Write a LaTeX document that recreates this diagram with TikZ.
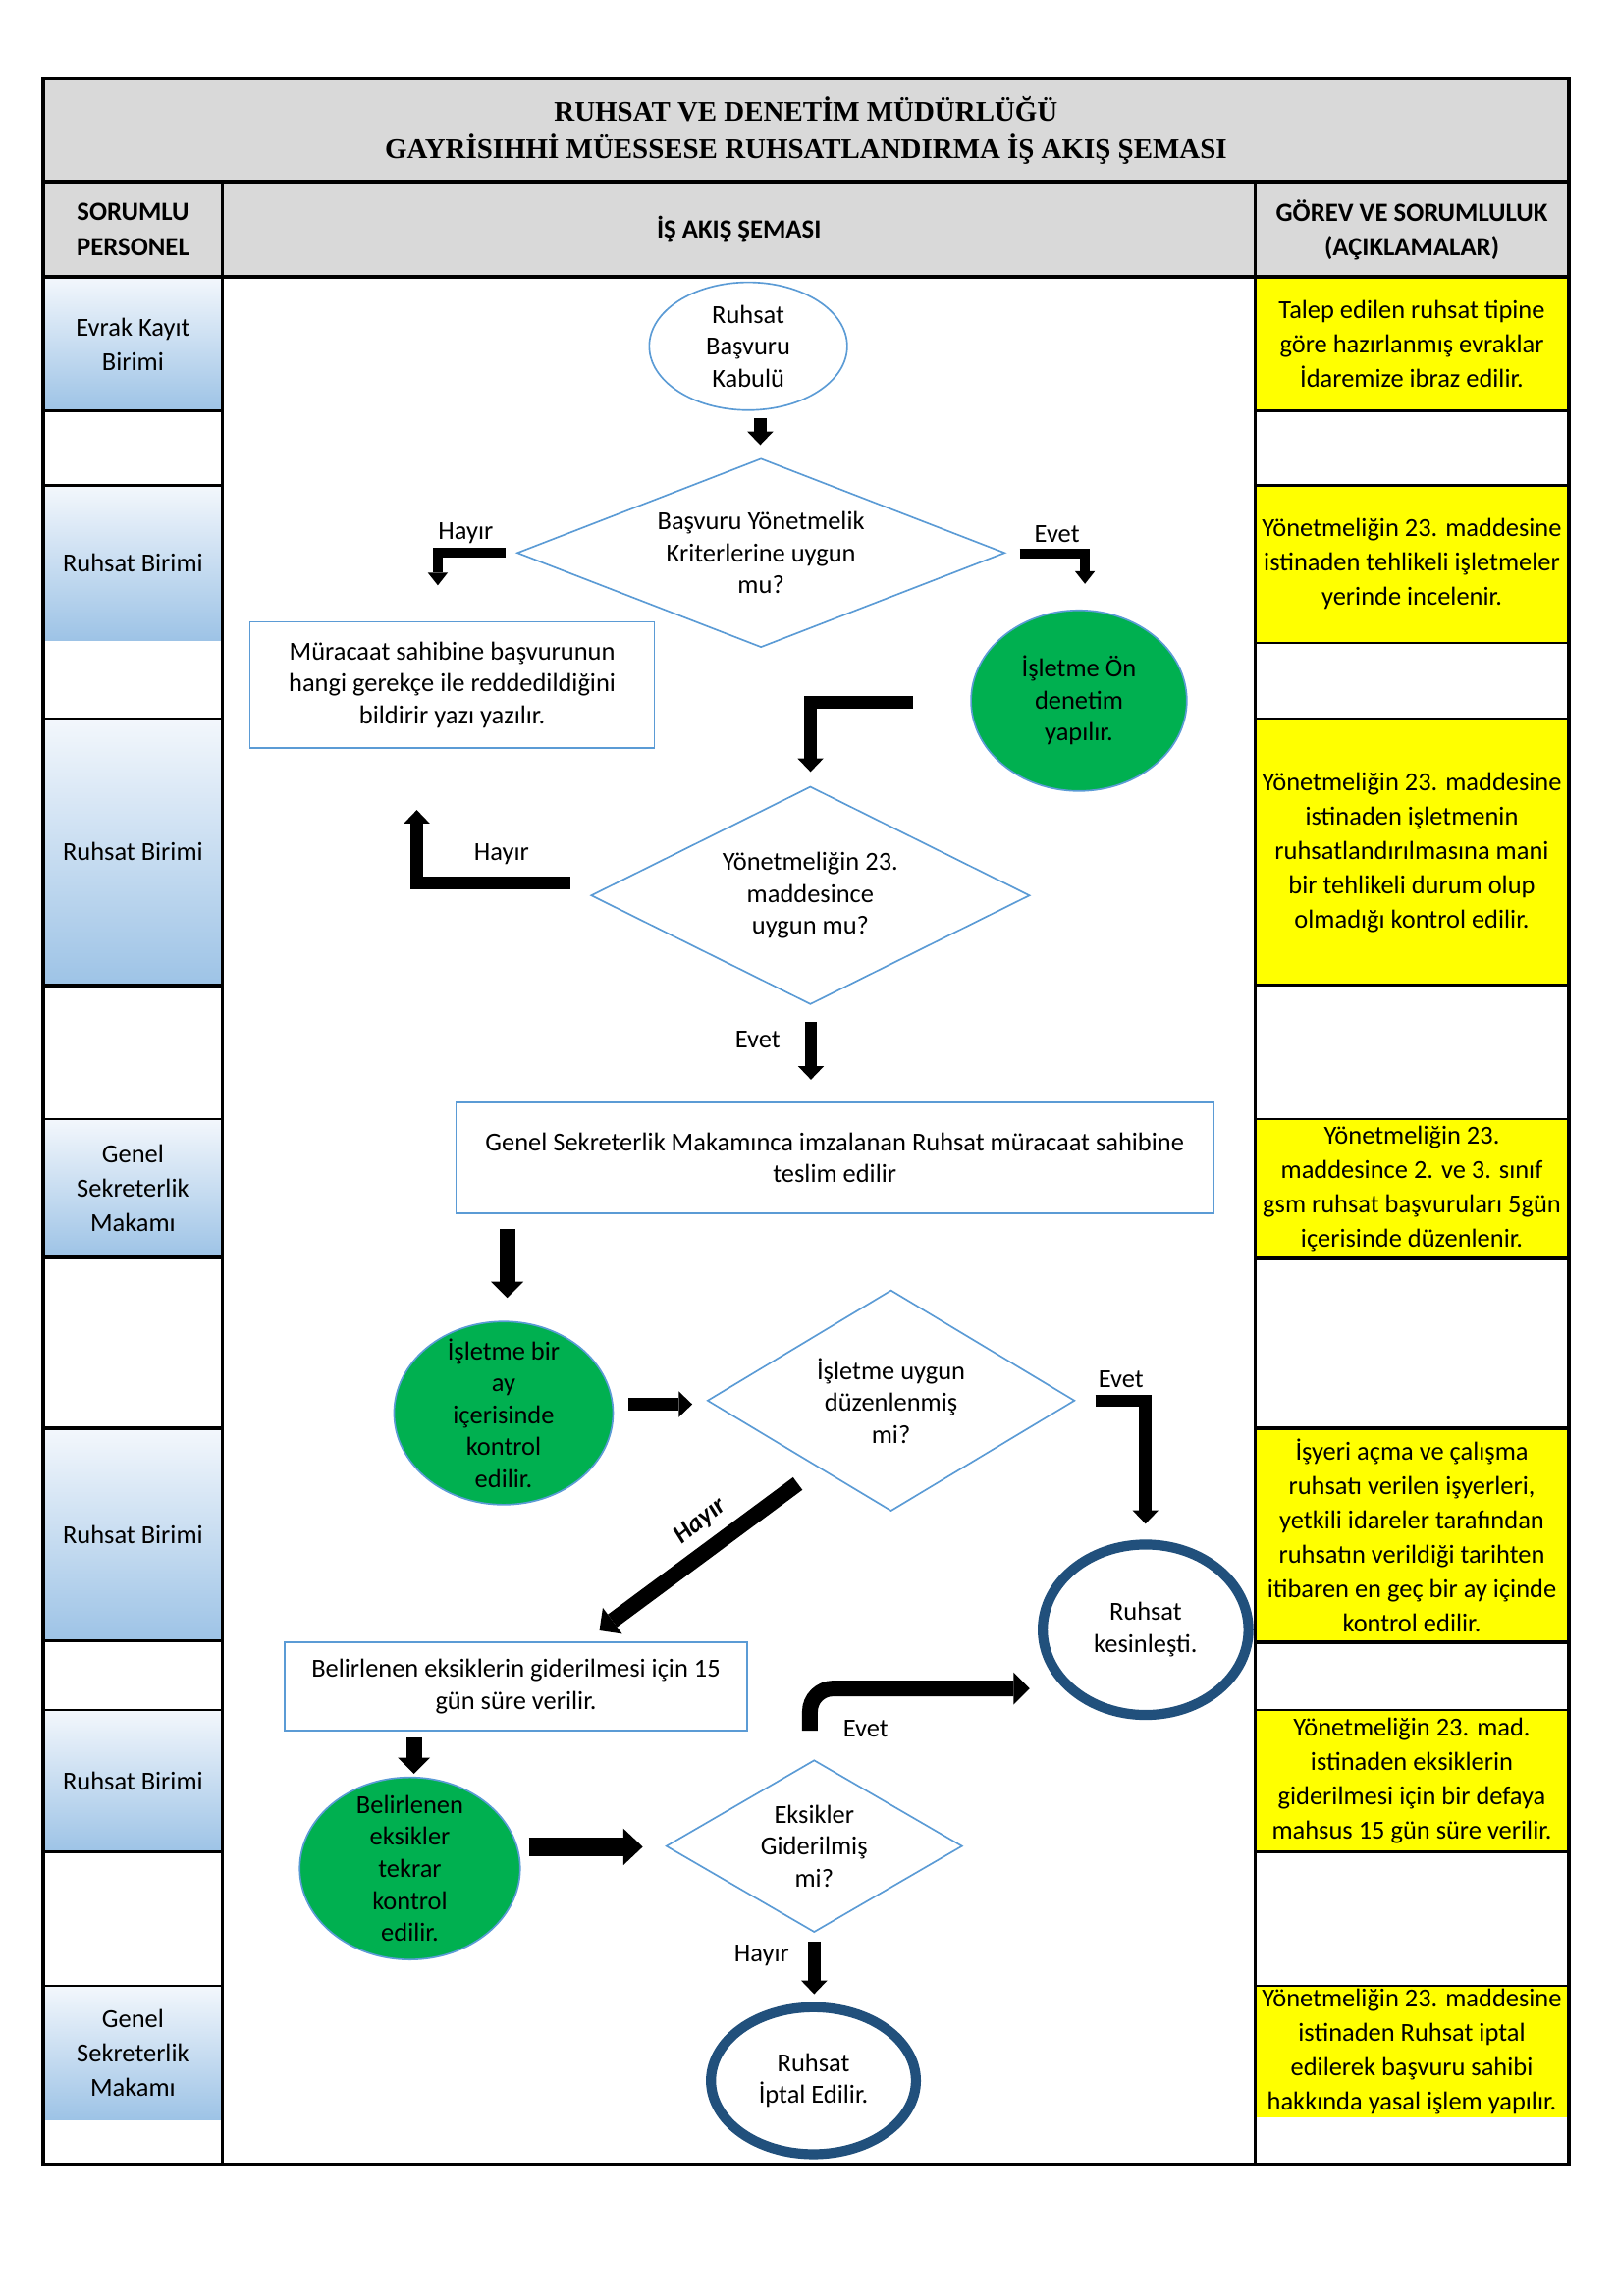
\documentclass[tikz,border=0pt]{standalone}
\usepackage{fontspec}
\setmainfont{Carlito}
\newfontfamily\baslikfont{Liberation Serif}
\usetikzlibrary{shapes.geometric,arrows.meta}
\definecolor{gri}{RGB}{217,217,217}
\definecolor{sari}{RGB}{255,255,0}
\definecolor{gradust}{RGB}{243,247,252}
\definecolor{gradalt}{RGB}{157,195,230}
\definecolor{cizgi}{RGB}{91,155,213}
\definecolor{yesil}{RGB}{0,176,80}
\definecolor{koyumavi}{RGB}{33,80,124}

\begin{document}
\begin{tikzpicture}[x=0.019091cm,y=-0.019091cm]
\tikzstyle{every node}+=[inner sep=0pt]
\tikzstyle{kalin}=[line width=1.3pt]
\tikzstyle{ince}=[line width=0.8pt]
\tikzstyle{baslik}=[align=center,font=\baslikfont\bfseries\fontsize{10.5}{13.8}\selectfont]
\tikzstyle{kolon}=[align=center,font=\bfseries\fontsize{9.7}{12.8}\selectfont]
\tikzstyle{yan}=[align=center,font=\fontsize{9.6}{12.7}\selectfont]
\tikzstyle{yazi}=[align=center,font=\fontsize{9.6}{11.8}\selectfont]
\tikzstyle{etiket}=[font=\fontsize{9.6}{12}\selectfont]
\tikzstyle{akis}=[draw=cizgi,line width=0.6pt]
\tikzstyle{kutu}=[akis,rectangle,align=center,font=\fontsize{9.6}{11.8}\selectfont]
\tikzstyle{karar}=[akis,diamond]
\tikzstyle{basla}=[akis,ellipse]
\tikzstyle{islem}=[akis,ellipse,fill=yesil]
\tikzstyle{bitis}=[ellipse,draw=koyumavi,line width=3.7pt]
\tikzstyle{ok}=[line width=4.6pt,-{Triangle[width=9.6pt,length=5pt,line width=0pt]}]
\tikzstyle{inceok}=[line width=3.6pt,-{Triangle[width=7.4pt,length=4.7pt,line width=0pt]}]
\tikzstyle{ortaok}=[line width=5.8pt,-{Triangle[width=12pt,length=6pt,line width=0pt]}]
\tikzstyle{kalinok}=[line width=7pt,-{Triangle[width=13.6pt,length=7.2pt,line width=0pt]}]
\useasboundingbox (0,0) rectangle (1100,1563.1);

\fill [gri] (29.4,53) rectangle (1067.7,188.5);
\shade [top color=gradust,bottom color=gradalt] (29.4,188.5) rectangle (151.5,279.6);
\shade [top color=gradust,bottom color=gradalt] (29.4,330.5) rectangle (151.5,436);
\shade [top color=gradust,bottom color=gradalt] (29.4,489) rectangle (151.5,671);
\shade [top color=gradust,bottom color=gradalt] (29.4,762) rectangle (151.5,856);
\shade [top color=gradust,bottom color=gradalt] (29.4,972.5) rectangle (151.5,1117);
\shade [top color=gradust,bottom color=gradalt] (29.4,1164) rectangle (151.5,1260.7);
\shade [top color=gradust,bottom color=gradalt] (29.4,1352) rectangle (151.5,1443);
\fill [sari] (854.4,188.5) rectangle (1067.7,279.6);
\fill [sari] (854.4,330.5) rectangle (1067.7,437.5);
\fill [sari] (854.4,489) rectangle (1067.7,670.5);
\fill [sari] (854.4,762) rectangle (1067.7,856.6);
\fill [sari] (854.4,972.5) rectangle (1067.7,1118);
\fill [sari] (854.4,1164) rectangle (1067.7,1260.7);
\fill [sari] (854.4,1352) rectangle (1067.7,1441.6);

\draw [kalin] (29.4,279.6) -- (151.5,279.6);
\draw [ince] (29.4,330.5) -- (151.5,330.5);
\draw [ince] (29.4,489) -- (151.5,489);
\draw [kalin] (29.4,671) -- (151.5,671);
\draw [ince] (29.4,762) -- (151.5,762);
\draw [kalin] (29.4,856) -- (151.5,856);
\draw [kalin] (29.4,972.5) -- (151.5,972.5);
\draw [ince] (29.4,1117) -- (151.5,1117);
\draw [ince] (29.4,1164) -- (151.5,1164);
\draw [kalin] (29.4,1260.7) -- (151.5,1260.7);
\draw [ince] (29.4,1352) -- (151.5,1352);
\draw [kalin] (854.4,279.6) -- (1067.7,279.6);
\draw [ince] (854.4,330.5) -- (1067.7,330.5);
\draw [ince] (854.4,437.5) -- (1067.7,437.5);
\draw [ince] (854.4,489) -- (1067.7,489);
\draw [kalin] (854.4,670.5) -- (1067.7,670.5);
\draw [ince] (854.4,762) -- (1067.7,762);
\draw [kalin] (854.4,856.6) -- (1067.7,856.6);
\draw [kalin] (854.4,972.5) -- (1067.7,972.5);
\draw [kalin] (854.4,1118) -- (1067.7,1118);
\draw [ince] (854.4,1164) -- (1067.7,1164);
\draw [kalin] (854.4,1260.7) -- (1067.7,1260.7);
\draw [ince] (854.4,1352) -- (1067.7,1352);
\draw [kalin] (29.4,53) rectangle (1067.7,1473.5);
\draw [kalin] (29.4,123.7) -- (1067.7,123.7);
\draw [kalin] (29.4,188.5) -- (1067.7,188.5);
\draw [kalin] (151.5,123.7) -- (151.5,1473.5);
\draw [kalin] (854.4,123.7) -- (854.4,1473.5);

\node [baslik] (baslik) at (548.6,88.6) {RUHSAT VE DENETİM MÜDÜRLÜĞÜ\\GAYRİSIHHİ MÜESSESE RUHSATLANDIRMA İŞ AKIŞ ŞEMASI};
\node [kolon] (personel) at (90.5,156.2) {SORUMLU\\PERSONEL};
\node [kolon] (sema) at (503,156.4) {İŞ AKIŞ ŞEMASI};
\node [kolon] (gorev) at (961,156.6) {GÖREV VE SORUMLULUK\\(AÇIKLAMALAR)};

\node [yan] (p1) at (90.5,234.3) {Evrak Kayıt\\Birimi};
\node [yan] (p2) at (90.5,383.3) {Ruhsat Birimi};
\node [yan] (p3) at (90.5,580) {Ruhsat Birimi};
\node [yan] (p4) at (90.5,809) {Genel\\Sekreterlik\\Makamı};
\node [yan] (p5) at (90.5,1044.8) {Ruhsat Birimi};
\node [yan] (p6) at (90.5,1212.4) {Ruhsat Birimi};
\node [yan] (p7) at (90.5,1397.5) {Genel\\Sekreterlik\\Makamı};

\node [yan] (g1) at (961,234) {Talep edilen ruhsat tipine\\göre hazırlanmış evraklar\\İdaremize ibraz edilir.};
\node [yan] (g2) at (961,384) {Yönetmeliğin 23. maddesine\\istinaden tehlikeli işletmeler\\yerinde incelenir.};
\node [yan] (g3) at (961,580.2) {Yönetmeliğin 23. maddesine\\istinaden işletmenin\\ruhsatlandırılmasına mani\\bir tehlikeli durum olup\\olmadığı kontrol edilir.};
\node [yan] (g4) at (961,809.3) {Yönetmeliğin 23.\\maddesince 2. ve 3. sınıf\\gsm ruhsat başvuruları 5gün\\içerisinde düzenlenir.};
\node [yan] (g5) at (961,1045.3) {İşyeri açma ve çalışma\\ruhsatı verilen işyerleri,\\yetkili idareler tarafından\\ruhsatın verildiği tarihten\\itibaren en geç bir ay içinde\\kontrol edilir.};
\node [yan] (g6) at (961,1212.6) {Yönetmeliğin 23. mad.\\istinaden eksiklerin\\giderilmesi için bir defaya\\mahsus 15 gün süre verilir.};
\node [yan] (g7) at (961,1397) {Yönetmeliğin 23. maddesine\\istinaden Ruhsat iptal\\edilerek başvuru sahibi\\hakkında yasal işlem yapılır.};

\node [basla,minimum width=2.571cm,minimum height=1.661cm] (kabul) at (509.3,235.7) {};
\node [yazi] (kabulyazi) at (kabul) {Ruhsat\\Başvuru\\Kabulü};
\node [karar,minimum width=6.338cm,minimum height=2.455cm] (karar1) at (518,376.4) {};
\node [yazi] (karar1yazi) at (karar1) {Başvuru Yönetmelik\\Kriterlerine uygun\\mu?};
\node [kutu,minimum width=5.254cm,minimum height=1.642cm] (ret) at (307.8,466.3) {Müracaat sahibine başvurunun\\hangi gerekçe ile reddedildiğini\\bildirir yazı yazılır.};
\node [islem,minimum width=2.803cm,minimum height=2.348cm] (onden) at (734.4,477) {};
\node [yazi] (ondenyazi) at (onden) {İşletme Ön\\denetim\\yapılır.};
\node [karar,minimum width=5.701cm,minimum height=2.831cm] (karar2) at (551.6,609.6) {};
\node [yazi] (karar2yazi) at (karar2) {Yönetmeliğin 23.\\maddesince\\uygun mu?};
\node [kutu,minimum width=9.838cm,minimum height=1.439cm] (teslim) at (568.2,788.1) {Genel Sekreterlik Makamınca imzalanan Ruhsat müracaat sahibine\\teslim edilir};
\node [islem,minimum width=2.845cm,minimum height=2.381cm] (kontrol) at (342.8,962) {};
\node [yazi] (kontrolyazi) at (kontrol) {İşletme bir\\ay\\içerisinde\\kontrol\\edilir.};
\node [karar,minimum width=4.773cm,minimum height=2.871cm] (karar3) at (606.5,953.5) {};
\node [yazi] (karar3yazi) at (karar3) {İşletme uygun\\düzenlenmiş\\mi?};
\node [bitis,minimum width=2.673cm,minimum height=2.215cm] (kesin) at (779.8,1109.5) {};
\node [yazi] (kesinyazi) at (kesin) {Ruhsat\\kesinleşti.};
\node [kutu,minimum width=6.014cm,minimum height=1.149cm] (sure) at (351.2,1148.1) {Belirlenen eksiklerin giderilmesi için 15\\gün süre verilir.};
\node [islem,minimum width=2.864cm,minimum height=2.367cm] (tekrar) at (279,1272) {};
\node [yazi] (tekraryazi) at (tekrar) {Belirlenen\\eksikler\\tekrar\\kontrol\\edilir.};
\node [karar,minimum width=3.849cm,minimum height=2.237cm] (karar4) at (554.2,1256.8) {};
\node [yazi] (karar4yazi) at (karar4) {Eksikler\\Giderilmiş\\mi?};
\node [bitis,minimum width=2.663cm,minimum height=1.909cm] (iptal) at (553.7,1416.5) {};
\node [yazi] (iptalyazi) at (iptal) {Ruhsat\\İptal Edilir.};

\coordinate (o1a) at (517.5,285);
\coordinate (o1b) at (517.5,303);
\coordinate (h1a) at (344,376.5);
\coordinate (h1b) at (298,398.5);
\coordinate (e1a) at (694,376.8);
\coordinate (e1b) at (738.5,397.5);
\coordinate (o2a) at (621.5,478);
\coordinate (o2b) at (551.7,525.5);
\coordinate (h2a) at (388,601);
\coordinate (h2b) at (283.7,551.4);
\coordinate (e2a) at (552,696);
\coordinate (e2b) at (552,735);
\coordinate (o3a) at (345.2,837);
\coordinate (o3b) at (345.2,883.6);
\coordinate (o4a) at (428,956);
\coordinate (o4b) at (471.2,956);
\coordinate (e3a) at (745.5,953.7);
\coordinate (e3b) at (779.7,1037.4);
\coordinate (h3a) at (543,1010);
\coordinate (h3b) at (408,1110);
\coordinate (o5a) at (281.8,1183);
\coordinate (o5b) at (281.8,1207.6);
\coordinate (o6a) at (360,1257.3);
\coordinate (o6b) at (437.5,1257.3);
\coordinate (e4a) at (551.3,1178.3);
\coordinate (e4b) at (700.9,1149.5);
\coordinate (h4a) at (554.2,1321.8);
\coordinate (h4b) at (554.2,1357.6);

\draw [ok] (o1a) -- (o1b);
\draw [inceok] (h1a) -| (h1b);
\draw [inceok] (e1a) -| (e1b);
\draw [ok] (o2a) -| (o2b);
\draw [ok] (h2a) -| (h2b);
\draw [ok] (e2a) -- (e2b);
\draw [ortaok] (o3a) -- (o3b);
\draw [ok] (o4a) -- (o4b);
\draw [ok] (e3a) -| (e3b);
\draw [ortaok] (h3a) -- (h3b);
\draw [ortaok] (o5a) -- (o5b);
\draw [kalinok] (o6a) -- (o6b);
\draw [ortaok,rounded corners=0.3cm] (e4a) |- (e4b);
\draw [ok] (h4a) -- (h4b);

\node [etiket] (hayir1) at (317,363) {Hayır};
\node [etiket] (evet1) at (719.5,363.6) {Evet};
\node [etiket] (hayir2) at (341.4,581.5) {Hayır};
\node [etiket] (evet2) at (515.8,708) {Evet};
\node [etiket] (evet3) at (763,939) {Evet};
\node [etiket,font=\bfseries\itshape\fontsize{9.6}{12}\selectfont,rotate=39] (hayir3) at (477,1036) {Hayır};
\node [etiket] (evet4) at (589.3,1177.1) {Evet};
\node [etiket] (hayir4) at (518.5,1331) {Hayır};
\end{tikzpicture}
\end{document}
